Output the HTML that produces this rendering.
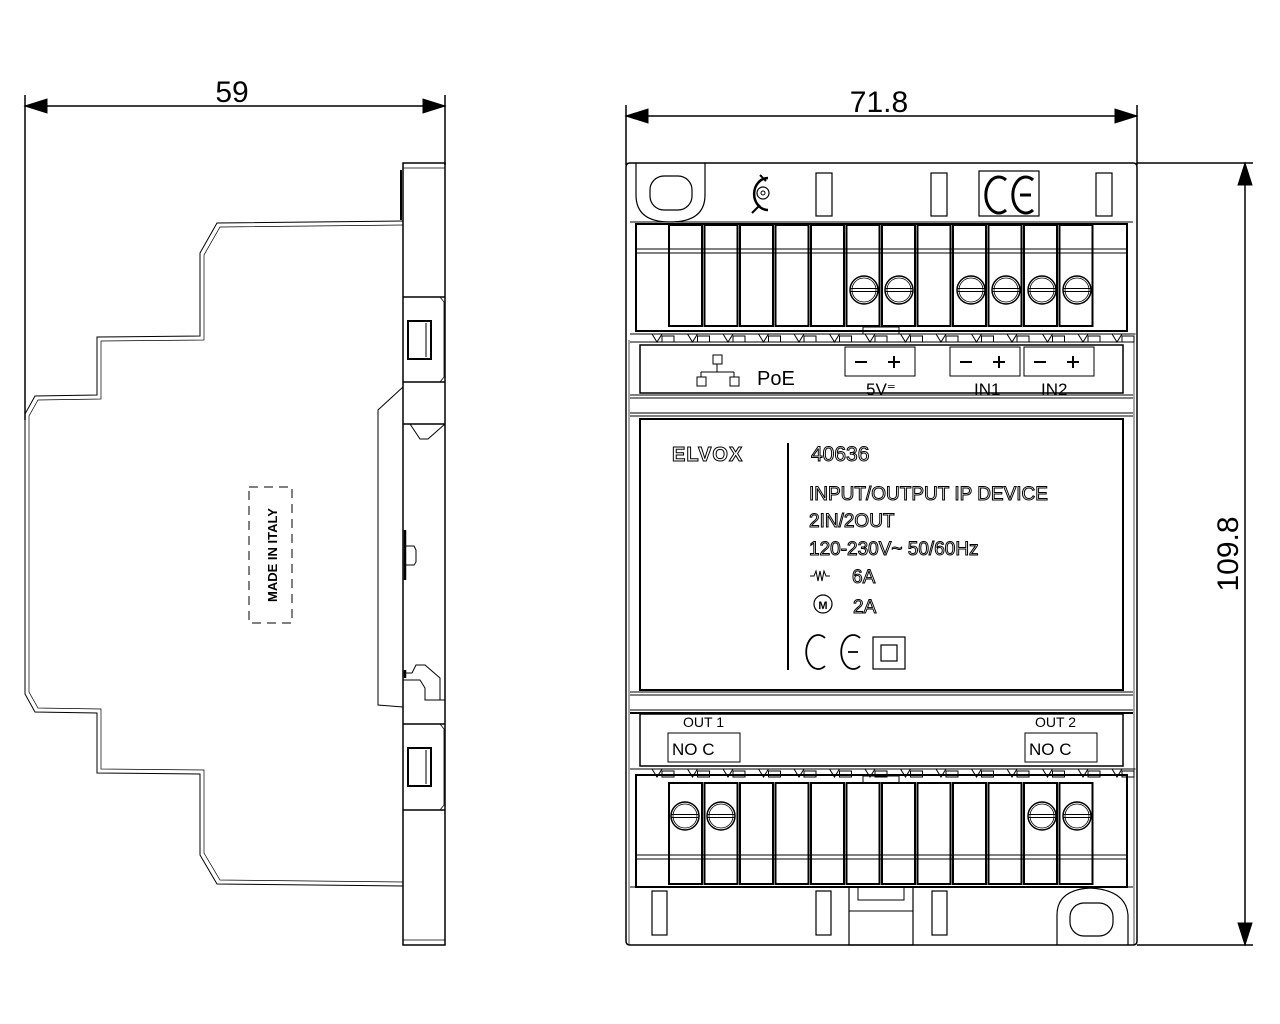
<!DOCTYPE html>
<html><head><meta charset="utf-8"><style>
html,body{margin:0;padding:0;background:#fff}
svg{display:block}
text{font-family:"Liberation Sans",sans-serif}
.o{fill:#fff;stroke:#000;stroke-width:1}
</style></head><body>
<svg width="1280" height="1024" viewBox="0 0 1280 1024" xmlns="http://www.w3.org/2000/svg">
<defs>
<g id="cell"><rect x="0" y="0" width="33" height="101" fill="none" stroke="#000" stroke-width="2"/></g>
<g id="screw"><circle r="14" fill="#fff" stroke="#000" stroke-width="1.5"/><circle r="12" fill="none" stroke="#000" stroke-width="0.8"/><line x1="-14" y1="-1.5" x2="14" y2="-1.5" stroke="#000" stroke-width="1"/><line x1="-14" y1="1.5" x2="14" y2="1.5" stroke="#000" stroke-width="1"/></g>
<g id="tooth"><path d="M0,0 L12,0 L17,8 L22,0 L35.5,0" fill="none" stroke="#000" stroke-width="1"/><rect x="22" y="2" width="12" height="6" fill="none" stroke="#000" stroke-width="1"/></g>
</defs>
<g fill="none" stroke="#000">
<line x1="25" y1="95" x2="25" y2="420" stroke-width="1.5"/>
<line x1="445" y1="95" x2="445" y2="165" stroke-width="1.5"/>
<line x1="25" y1="106" x2="445" y2="106" stroke-width="1.5"/>
<polygon points="25,106 47,99 47,113" fill="#000"/>
<polygon points="445,106 423,99 423,113" fill="#000"/>
<line x1="626" y1="105" x2="626" y2="165" stroke-width="1.5"/>
<line x1="1137" y1="105" x2="1137" y2="165" stroke-width="1.5"/>
<line x1="626" y1="116" x2="1137" y2="116" stroke-width="1.5"/>
<polygon points="626,116 648,109 648,123" fill="#000"/>
<polygon points="1137,116 1115,109 1115,123" fill="#000"/>
<line x1="1137" y1="163" x2="1253" y2="163" stroke-width="1.5"/>
<line x1="1137" y1="945" x2="1253" y2="945" stroke-width="1.5"/>
<line x1="1245" y1="163" x2="1245" y2="945" stroke-width="1.5"/>
<polygon points="1245,163 1238,185 1252,185" fill="#000"/>
<polygon points="1245,945 1238,923 1252,923" fill="#000"/>

<polyline points="403,221 217,223 200,253 200,336 97,337 97,395 35,396 25,414 25,694 35,712 97,713 97,773 200,774 200,855 217,884 403,886" stroke-width="1"/>
<polyline points="403,225 220,227 204,255 204,340 101,341 101,399 38,400 29,416 29,692 38,708 101,709 101,769 204,770 204,853 220,880 403,882" stroke-width="0.7"/>
<rect x="249" y="487" width="43" height="136" stroke-width="1" stroke-dasharray="9,6"/>
<polyline points="403,387 378,410 378,705 403,707" stroke-width="1"/>
<rect x="403" y="163" width="42" height="782" stroke-width="1.5"/>
<line x1="403" y1="168" x2="445" y2="168" stroke-width="0.8"/>
<line x1="403" y1="940" x2="445" y2="940" stroke-width="0.8"/>
<line x1="401" y1="170" x2="401" y2="220" stroke-width="2"/>
<line x1="403" y1="297" x2="445" y2="297" stroke-width="1.5"/>
<line x1="403" y1="382" x2="445" y2="382" stroke-width="1.5"/>
<path d="M440,297 L444,302 L444,377 L440,382" stroke-width="0.8"/>
<rect x="408" y="321" width="23" height="38" stroke-width="2"/>
<line x1="426" y1="323" x2="426" y2="357" stroke-width="1.5" stroke="#555"/>
<line x1="403" y1="424" x2="445" y2="424" stroke-width="1.5"/>
<path d="M410,424 L420,439 L428,439 L445,424" stroke-width="1"/>
<path d="M405,530 L405,580 M405,670 L405,678" stroke-width="2.5"/>
<path d="M405,546 L414,546 L416,550 L416,562 L414,565 L405,565" stroke-width="1"/>
<path d="M403,673 L412,673 L416,665 L425,665 L440,678 L440,700" stroke-width="1"/>
<path d="M403,680 L420,680 L425,688 L425,700 L445,700" stroke-width="1"/>
<line x1="403" y1="724" x2="445" y2="724" stroke-width="1.5"/>
<line x1="403" y1="810" x2="445" y2="810" stroke-width="1.5"/>
<path d="M440,724 L444,729 L444,805 L440,810" stroke-width="0.8"/>
<rect x="408" y="748" width="23" height="38" stroke-width="2"/>
<line x1="426" y1="750" x2="426" y2="784" stroke-width="1.5" stroke="#555"/>

<path d="M630,163 L1133,163 Q1137,163 1137,167 L1137,941 Q1137,945 1133,945 L630,945 Q626,945 626,941 L626,167 Q626,163 630,163 Z" stroke-width="1.5"/>
<path d="M636,163 L636,195 Q636,222 670,222 Q705,222 705,195 L705,163" stroke-width="1.2"/>
<rect x="650" y="176" width="42" height="34" rx="14" stroke-width="1.2"/>
<rect x="816" y="173" width="16" height="43" stroke-width="1.2"/>
<rect x="931" y="173" width="16" height="43" stroke-width="1.2"/>
<rect x="1096" y="173" width="16" height="43" stroke-width="1.2"/>
<rect x="979" y="171" width="60" height="45" stroke-width="1.2"/>
<path d="M1006,180 A13,18 0 1 0 1006,210" stroke-width="3"/>
<path d="M1033,180 A13,18 0 1 0 1033,210 M1020,195 L1031,195" stroke-width="3"/>
<path d="M768,178 A13,15 0 1 0 768,210" stroke-width="2.5"/>
<path d="M752,213 L760,205 M760,175 L766,181" stroke-width="2"/>
<circle cx="763" cy="193" r="6" stroke-width="1.2"/>
<circle cx="763" cy="193" r="2" stroke-width="1"/>
<line x1="630" y1="222" x2="1133" y2="222" stroke-width="1"/>
<rect x="636" y="224" width="491" height="107" stroke-width="2"/>
<line x1="636" y1="249" x2="1127" y2="249" stroke-width="1"/>
<line x1="636" y1="253" x2="1127" y2="253" stroke-width="1"/>
<use href="#cell" x="669" y="225"/><use href="#cell" x="704.5" y="225"/><use href="#cell" x="740" y="225"/><use href="#cell" x="775.5" y="225"/><use href="#cell" x="811" y="225"/><use href="#cell" x="846.5" y="225"/><use href="#cell" x="882" y="225"/><use href="#cell" x="917.5" y="225"/><use href="#cell" x="953" y="225"/><use href="#cell" x="988.5" y="225"/><use href="#cell" x="1024" y="225"/><use href="#cell" x="1059.5" y="225"/>
<use href="#screw" x="864" y="290"/><use href="#screw" x="899" y="290"/><use href="#screw" x="971" y="290"/><use href="#screw" x="1006" y="290"/><use href="#screw" x="1042" y="290"/><use href="#screw" x="1077" y="290"/>
<rect x="863" y="327" width="36" height="7" stroke-width="1"/>
<line x1="630" y1="334" x2="1133" y2="334" stroke-width="1"/>
<g transform="translate(0,334)"><use href="#tooth" x="640"/><use href="#tooth" x="675.5"/><use href="#tooth" x="711"/><use href="#tooth" x="746.5"/><use href="#tooth" x="782"/><use href="#tooth" x="817.5"/><use href="#tooth" x="853"/><use href="#tooth" x="888.5"/><use href="#tooth" x="924"/><use href="#tooth" x="959.5"/><use href="#tooth" x="995"/><use href="#tooth" x="1030.5"/><use href="#tooth" x="1066"/><use href="#tooth" x="1100"/></g>
<line x1="630" y1="342" x2="1133" y2="342" stroke-width="1"/>
<rect x="640" y="345" width="483" height="48" stroke-width="1.5"/>
<line x1="630" y1="395" x2="1133" y2="395" stroke-width="1"/>
<line x1="630" y1="398" x2="1133" y2="398" stroke-width="1"/>
<line x1="630" y1="413" x2="1133" y2="413" stroke-width="1"/>
<line x1="630" y1="416" x2="1133" y2="416" stroke-width="1"/>
<line x1="629" y1="340" x2="629" y2="945" stroke-width="0.7"/>
<line x1="1134" y1="340" x2="1134" y2="945" stroke-width="0.7"/>
<rect x="845" y="347" width="70" height="29" stroke-width="1"/>
<rect x="950" y="347" width="70" height="29" stroke-width="1"/>
<rect x="1024" y="347" width="70" height="29" stroke-width="1"/>
<path d="M855,362 L867,362 M888,362 L900,362 M894,356 L894,368 M960,362 L972,362 M993,362 L1005,362 M999,356 L999,368 M1034,362 L1046,362 M1067,362 L1079,362 M1073,356 L1073,368" stroke-width="2"/>
<rect x="713" y="355" width="9" height="9" stroke-width="1"/>
<rect x="697" y="377" width="9" height="9" stroke-width="1"/>
<rect x="730" y="377" width="9" height="9" stroke-width="1"/>
<path d="M717,364 L717,372 M701,372 L734,372 M701,372 L701,377 M734,372 L734,377" stroke-width="1"/>
<rect x="640" y="419" width="483" height="271" stroke-width="2"/>
<line x1="788" y1="443" x2="788" y2="670" stroke-width="2"/>
<path d="M825,638 A12,17 0 1 0 825,666" stroke-width="1.8"/>
<path d="M860,638 A12,17 0 1 0 860,666 M848,652 L858,652" stroke-width="1.8"/>
<rect x="873" y="637" width="32" height="32" stroke-width="1.2"/>
<rect x="881" y="645" width="16" height="16" stroke-width="1.2"/>
<circle cx="823" cy="604" r="9" stroke-width="1.2"/>
<path d="M810,576 L814,576 L816,571 L818,581 L820,571 L822,581 L824,571 L826,576 L830,576" stroke-width="1"/>
<line x1="630" y1="692" x2="1133" y2="692" stroke-width="1"/>
<line x1="630" y1="695" x2="1133" y2="695" stroke-width="1"/>
<line x1="630" y1="710" x2="1133" y2="710" stroke-width="1"/>
<line x1="630" y1="713" x2="1133" y2="713" stroke-width="2"/>
<rect x="640" y="714" width="483" height="52" stroke-width="1.5"/>
<rect x="668" y="733" width="72" height="29" stroke-width="1"/>
<rect x="1025" y="733" width="72" height="29" stroke-width="1"/>
<line x1="630" y1="769" x2="1133" y2="769" stroke-width="1"/>
<g transform="translate(0,769)"><use href="#tooth" x="640"/><use href="#tooth" x="675.5"/><use href="#tooth" x="711"/><use href="#tooth" x="746.5"/><use href="#tooth" x="782"/><use href="#tooth" x="817.5"/><use href="#tooth" x="853"/><use href="#tooth" x="888.5"/><use href="#tooth" x="924"/><use href="#tooth" x="959.5"/><use href="#tooth" x="995"/><use href="#tooth" x="1030.5"/><use href="#tooth" x="1066"/><use href="#tooth" x="1100"/></g>
<rect x="636" y="775" width="491" height="112" stroke-width="2"/>
<rect x="863" y="776" width="36" height="7" stroke-width="1"/>
<line x1="636" y1="855" x2="1127" y2="855" stroke-width="1"/>
<line x1="636" y1="859" x2="1127" y2="859" stroke-width="1"/>
<use href="#cell" x="669" y="783"/><use href="#cell" x="704.5" y="783"/><use href="#cell" x="740" y="783"/><use href="#cell" x="775.5" y="783"/><use href="#cell" x="811" y="783"/><use href="#cell" x="846.5" y="783"/><use href="#cell" x="882" y="783"/><use href="#cell" x="917.5" y="783"/><use href="#cell" x="953" y="783"/><use href="#cell" x="988.5" y="783"/><use href="#cell" x="1024" y="783"/><use href="#cell" x="1059.5" y="783"/>
<use href="#screw" x="685" y="816"/><use href="#screw" x="721" y="816"/><use href="#screw" x="1042" y="816"/><use href="#screw" x="1077" y="816"/>
<line x1="630" y1="887" x2="1133" y2="887" stroke-width="1"/>
<rect x="652" y="891" width="15" height="44" stroke-width="1.2"/>
<rect x="816" y="891" width="15" height="44" stroke-width="1.2"/>
<rect x="932" y="891" width="15" height="44" stroke-width="1.2"/>
<rect x="849" y="887" width="64" height="58" stroke-width="1.2"/>
<line x1="849" y1="911" x2="913" y2="911" stroke-width="1"/>
<rect x="858" y="887" width="46" height="13" stroke-width="1"/>
<path d="M1057,945 L1057,915 Q1057,890 1090,888 Q1126,890 1128,915 L1128,945" stroke-width="1.2"/>
<rect x="1070" y="903" width="43" height="33" rx="14" stroke-width="1.2"/>
</g>
<text x="232" y="102" font-size="30" text-anchor="middle">59</text>
<text x="879" y="112" font-size="30" text-anchor="middle">71.8</text>
<text transform="translate(1238,554) rotate(-90)" font-size="30" text-anchor="middle">109.8</text>
<text transform="translate(277,555) rotate(-90)" font-size="13" text-anchor="middle" font-weight="bold">MADE IN ITALY</text>
<text x="757" y="385" font-size="20">PoE</text>
<text x="866" y="395" font-size="17">5V⁼</text>
<text x="974" y="395" font-size="17">IN1</text>
<text x="1041" y="395" font-size="17">IN2</text>
<text x="683" y="727" font-size="14">OUT 1</text>
<text x="1035" y="727" font-size="14">OUT 2</text>
<text x="672" y="755" font-size="17">NO  C</text>
<text x="1029" y="755" font-size="17">NO  C</text>
<g class="o">
<text x="672" y="461" font-size="20" font-weight="bold" letter-spacing="1">ELVOX</text>
<text x="811" y="461" font-size="21">40636</text>
<text x="809" y="500" font-size="19">INPUT/OUTPUT IP DEVICE</text>
<text x="809" y="527" font-size="19">2IN/2OUT</text>
<text x="809" y="555" font-size="19">120-230V~  50/60Hz</text>
<text x="852" y="583" font-size="19">6A</text>
<text x="853" y="613" font-size="19">2A</text>
</g>
<text x="823" y="609" font-size="11" text-anchor="middle" font-weight="bold">M</text>
</svg>
</body></html>
